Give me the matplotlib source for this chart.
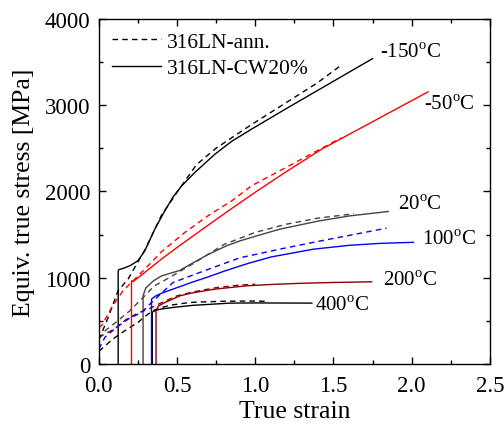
import numpy as np
import matplotlib
matplotlib.use('Agg')
import matplotlib.pyplot as plt
from matplotlib.ticker import MultipleLocator

plt.rcParams['font.family'] = ['Liberation Serif', 'DejaVu Serif']
plt.rcParams['mathtext.fontset'] = 'custom'
plt.rcParams['mathtext.rm'] = 'Liberation Serif'

# -150 C
m150_cw_x = [0.124, 0.124, 0.13, 0.155, 0.2, 0.25, 0.294, 0.358, 0.422, 0.475, 0.53, 0.614, 0.742, 0.85, 0.976, 1.2, 1.4, 1.6, 1.75]
m150_cw_y = [0, 1080, 1095, 1107, 1140, 1196, 1311, 1562, 1775, 1935, 2064, 2219, 2430, 2580, 2720, 2960, 3170, 3380, 3537]
m150_an_x = [0.0, 0.06, 0.123, 0.187, 0.23, 0.3, 0.4, 0.5, 0.625, 0.75, 0.965, 1.2, 1.4, 1.558]
m150_an_y = [280, 540, 848, 984, 1119, 1340, 1720, 1990, 2310, 2500, 2760, 3030, 3260, 3472]

# -50 C
m50_cw_x = [0.209, 0.209, 0.219, 0.3, 0.4, 0.5, 0.6, 0.7, 0.816, 1.0, 1.2, 1.424, 1.6, 1.8, 2.104]
m50_cw_y = [0, 964, 955, 1070, 1215, 1350, 1480, 1610, 1759, 1990, 2230, 2488, 2660, 2855, 3152]
m50_an_x = [0.0, 0.02, 0.08, 0.155, 0.23, 0.3, 0.4, 0.55, 0.7, 0.85, 0.976, 1.2, 1.4, 1.55]
m50_an_y = [420, 450, 650, 850, 985, 1110, 1300, 1524, 1720, 1890, 2064, 2280, 2475, 2620]

# 20 C
p20_cw_x = [0.283, 0.283, 0.3, 0.35, 0.4, 0.518, 0.6, 0.7, 0.816, 0.9, 1.0, 1.157, 1.4, 1.6, 1.85]
p20_cw_y = [0, 790, 880, 965, 1020, 1085, 1170, 1270, 1369, 1425, 1480, 1562, 1655, 1715, 1767]
p20_an_x = [0.0, 0.04, 0.12, 0.198, 0.262, 0.3, 0.35, 0.45, 0.6, 0.8, 1.0, 1.2, 1.4, 1.63]
p20_an_y = [290, 385, 500, 617, 733, 800, 900, 1000, 1160, 1385, 1525, 1620, 1690, 1740]

# 100 C
p100_cw_x = [0.337, 0.337, 0.36, 0.4, 0.5, 0.6, 0.7, 0.8, 0.944, 1.1, 1.37, 1.6, 1.8, 2.01]
p100_cw_y = [0, 752, 785, 820, 885, 950, 1010, 1075, 1160, 1240, 1330, 1375, 1398, 1410]
p100_an_x = [0.0, 0.04, 0.113, 0.187, 0.273, 0.33, 0.4, 0.475, 0.646, 0.9, 1.157, 1.4, 1.6, 1.84]
p100_an_y = [174, 312, 425, 520, 598, 700, 820, 945, 1061, 1230, 1331, 1420, 1490, 1574]

# 200 C
p200_cw_x = [0.366, 0.366, 0.38, 0.42, 0.518, 0.6, 0.742, 0.944, 1.1, 1.3, 1.5, 1.744]
p200_cw_y = [0, 617, 670, 710, 790, 825, 868, 906, 922, 936, 945, 953]
p200_an_x = [0.0, 0.05, 0.1, 0.177, 0.25, 0.32, 0.4, 0.5, 0.6, 0.75, 0.9, 1.0]
p200_an_y = [310, 360, 405, 520, 590, 640, 710, 790, 835, 885, 915, 925]

# 400 C
p400_cw_x = [0.342, 0.342, 0.36, 0.4, 0.475, 0.6, 0.838, 1.0, 1.2, 1.362]
p400_cw_y = [0, 600, 620, 638, 656, 680, 706, 708, 707, 706]
p400_an_x = [0.0, 0.017, 0.09, 0.166, 0.25, 0.315, 0.36, 0.45, 0.582, 0.8, 1.0, 1.085]
p400_an_y = [150, 174, 290, 386, 482, 579, 630, 680, 714, 728, 730, 726]

temps = ['-150', '-50', '20', '100', '200', '400']
label_x = [1.80, 2.08, 1.915, 2.065, 1.815, 1.385]
label_y = [3611, 3009, 1850, 1450, 968, 679]

fig = plt.figure(figsize=(5.04, 4.27), dpi=100)
ax = fig.add_axes([0.196, 0.145, 0.776, 0.809])

lw = 1.0
dash = (0, (4.0, 3.0))
series = [
    (p400_cw_x, p400_cw_y, p400_an_x, p400_an_y, 'black'),
    (m150_cw_x, m150_cw_y, m150_an_x, m150_an_y, 'black'),
    (m50_cw_x, m50_cw_y, m50_an_x, m50_an_y, 'red'),
    (p20_cw_x, p20_cw_y, p20_an_x, p20_an_y, '#444444'),
    (p200_cw_x, p200_cw_y, p200_an_x, p200_an_y, '#8b0000'),
    (p100_cw_x, p100_cw_y, p100_an_x, p100_an_y, 'blue'),
]
for cx, cy, dx, dy, c in series:
    ax.plot(dx, dy, color=c, lw=lw, linestyle=dash)
    ax.plot(cx, cy, color=c, lw=lw)

# legend entries
ax.plot([], [], color='black', lw=lw, linestyle=dash, label='316LN-ann.')
ax.plot([], [], color='black', lw=lw, label='316LN-CW20%')
handles, labels = ax.get_legend_handles_labels()
ax.legend(handles[-2:], labels[-2:], loc='upper left', frameon=False,
          fontsize=15.5, handlelength=2.3, handletextpad=0.25,
          borderaxespad=0.2, labelspacing=0.3)

for t, lx, ly in zip(temps, label_x, label_y):
    ax.text(lx, ly, t + r'$^\mathrm{o}$C', fontsize=15, va='center', ha='left')

ax.set_xlim(0, 2.5)
ax.set_ylim(0, 4000)
ax.xaxis.set_major_locator(MultipleLocator(0.5))
ax.xaxis.set_minor_locator(MultipleLocator(0.25))
ax.yaxis.set_major_locator(MultipleLocator(1000))
ax.yaxis.set_minor_locator(MultipleLocator(500))
ax.xaxis.set_major_formatter(plt.FormatStrFormatter('%.1f'))
ax.tick_params(which='both', direction='in', top=True, right=True, labelsize=16.5, width=1)
ax.tick_params(which='major', length=5)
ax.tick_params(which='minor', length=3)
ax.tick_params(axis='x', pad=8)
ax.tick_params(axis='y', pad=6)
for s in ax.spines.values():
    s.set_linewidth(1.0)

ax.set_xlabel('True strain', fontsize=18.5, labelpad=3)
ax.set_ylabel('Equiv. true stress [MPa]', fontsize=18.5, labelpad=7)

fig.savefig('out.png', dpi=100)
